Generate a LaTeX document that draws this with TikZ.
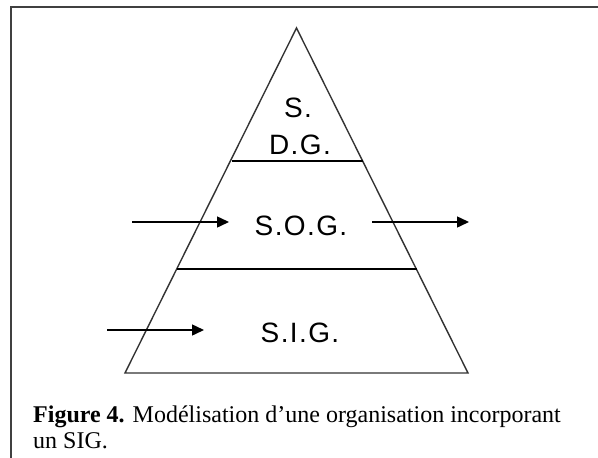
\documentclass[tikz,border=0pt]{standalone}
\usepackage{fontspec}
\setmainfont{Liberation Serif}
\newfontfamily\labfont[LetterSpace=5]{Liberation Sans}
\usetikzlibrary{arrows.meta}
\tikzset{
  frameline/.style={line width=1.6pt, draw=black!75},
  triline/.style={line width=1.4pt, draw=black!80},
  sepline/.style={line width=1.5pt, draw=black},
  flowarrow/.style={line width=1.5pt, draw=black, -{Triangle[length=12pt,width=11pt]}},
  lab/.style={inner sep=0pt, anchor=base, font=\labfont\fontsize{28}{30}\selectfont},
  captext/.style={inner sep=0pt, anchor=base west, font=\fontsize{24}{26}\selectfont}
}
\begin{document}
\begin{tikzpicture}[x=1pt,y=-1pt]
\useasboundingbox (0,0) rectangle (598,458);
% frame
\coordinate (ftl) at (11,7);
\coordinate (ftr) at (598,7);
\coordinate (fbl) at (11,458);
\draw[frameline] (ftr) -- (ftl) -- (fbl);
% triangle
\coordinate (apex) at (296.5,28);
\coordinate (bl) at (125,373);
\coordinate (br) at (468,373);
\draw[triline, line join=miter] (apex) -- (bl) -- (br) -- cycle;
% separators
\coordinate (s1l) at (232,161);
\coordinate (s1r) at (363,161);
\coordinate (s2l) at (177,269);
\coordinate (s2r) at (417,269);
\draw[sepline] (s1l) -- (s1r);
\draw[sepline] (s2l) -- (s2r);
% labels
\node[lab] (sdg1) at (298,117) {S.};
\node[lab] (sdg2) at (300,154) {D.G.};
\node[lab] (sog) at (301,235) {S.O.G.};
\node[lab] (sig) at (300,342) {S.I.G.};
% arrows
\coordinate (a1s) at (132,222);
\coordinate (a1e) at (229,222);
\coordinate (a2s) at (372,222);
\coordinate (a2e) at (469,222);
\coordinate (a3s) at (107,330);
\coordinate (a3e) at (204,330);
\draw[flowarrow] (a1s) -- (a1e);
\draw[flowarrow] (a2s) -- (a2e);
\draw[flowarrow] (a3s) -- (a3e);
% caption
\node[captext] (cap1) at (33,422) {\textbf{Figure 4.} Modélisation d’une organisation incorporant};
\node[captext] (cap2) at (33,448) {un SIG.};
\end{tikzpicture}
\end{document}
